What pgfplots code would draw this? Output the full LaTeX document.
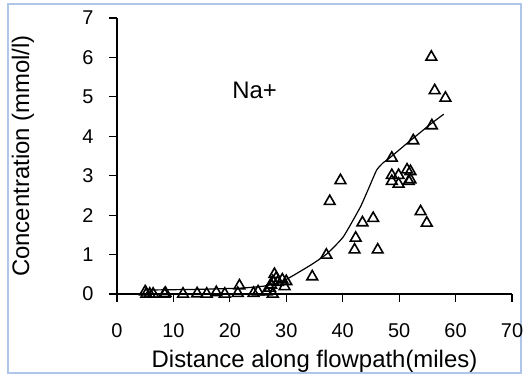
\documentclass[border=0pt]{standalone}
\usepackage{fontspec}
\setmainfont{Liberation Sans}
\usepackage{pgfplots}
\pgfplotsset{compat=1.18}
\definecolor{framecol}{RGB}{176,198,232}
\newcommand{\ticksize}{\fontsize{20}{24}\selectfont}
\begin{document}
\begin{tikzpicture}[x=1bp,y=1bp]
\useasboundingbox (0,0) rectangle (524,377);
\draw[framecol, line width=1.5bp] (8,4) rectangle (521,373);
\begin{axis}[
  at={(117bp,83bp)}, anchor=south west,
  width=395bp, height=276bp, scale only axis,
  xmin=0, xmax=70, ymin=0, ymax=7,
  axis x line=bottom, axis y line=left,
  axis line style={-, line width=1.2bp},
  xtick={0,10,...,70}, ytick={0,1,...,7},
  tick align=outside, major tick length=8bp,
  tick style={line width=1.2bp, black},
  /pgf/number format/assume math mode=true,
  xticklabel={\ticksize\pgfmathprintnumber{\tick}},
  yticklabel={\ticksize\pgfmathprintnumber{\tick}},
  xticklabel style={anchor=north, yshift=-18bp},
  yticklabel style={anchor=east, xshift=-12bp},
  label style={font=\fontsize{24}{28}\selectfont},
  xlabel={Distance along flowpath(miles)},
  ylabel={Concentration (mmol/l)},
  x label style={at={(axis description cs:0.5,-0.268)}, anchor=base},
  y label style={at={(axis description cs:-0.238,0.5)}, anchor=center},
  clip=false,
]
% observed Na+ concentrations
\addplot[only marks, mark=triangle, mark size=6.2bp,
  mark options={line width=1.6bp, fill=white, draw=black}] coordinates {
  (5.0,0.06) (5.2,0.0) (5.8,0.0) (6.4,0.0) (8.4,0.0) (8.6,0.02)
  (11.7,0.0) (14.2,0.01) (15.9,0.0) (17.6,0.04) (19.1,0.0)
  (21.4,0.02) (21.7,0.21) (24.2,0.02) (25.0,0.06) (26.5,0.06)
  (27.1,0.15) (27.3,0.23) (27.6,0.0) (27.6,0.32) (27.9,0.50)
  (28.2,0.40) (28.5,0.30) (29.3,0.36) (29.7,0.19) (30.0,0.32)
  (34.6,0.44) (37.1,0.99) (37.7,2.35) (39.6,2.88)
  (42.1,1.12) (42.3,1.42) (43.5,1.81) (45.4,1.92) (46.2,1.12)
  (48.7,3.45) (48.7,3.01) (49.9,3.01) (48.7,2.86) (49.9,2.79)
  (51.4,3.15) (52.0,3.11) (51.7,2.86) (52.0,2.90)
  (52.5,3.89) (53.8,2.09) (54.9,1.80)
  (55.8,4.27) (55.7,6.01) (56.3,5.16) (58.2,4.97)
};
% fitted trend
\addplot[black, line width=1.2bp, smooth, tension=0.3, mark=none] coordinates {
  (5,0.10) (15,0.12) (22,0.15) (26,0.20) (29,0.30) (31,0.45)
  (34.5,0.75) (37.2,1.02) (40.1,1.45) (43.1,2.20) (44.6,2.68) (46.0,3.14)
  (47.1,3.32) (48.3,3.45) (51.3,3.81) (55.4,4.29) (57.9,4.56)
};
\node[anchor=base, font=\fontsize{24}{28}\selectfont] at (axis cs:24.4,4.96) {Na+};
\end{axis}
\end{tikzpicture}
\end{document}
